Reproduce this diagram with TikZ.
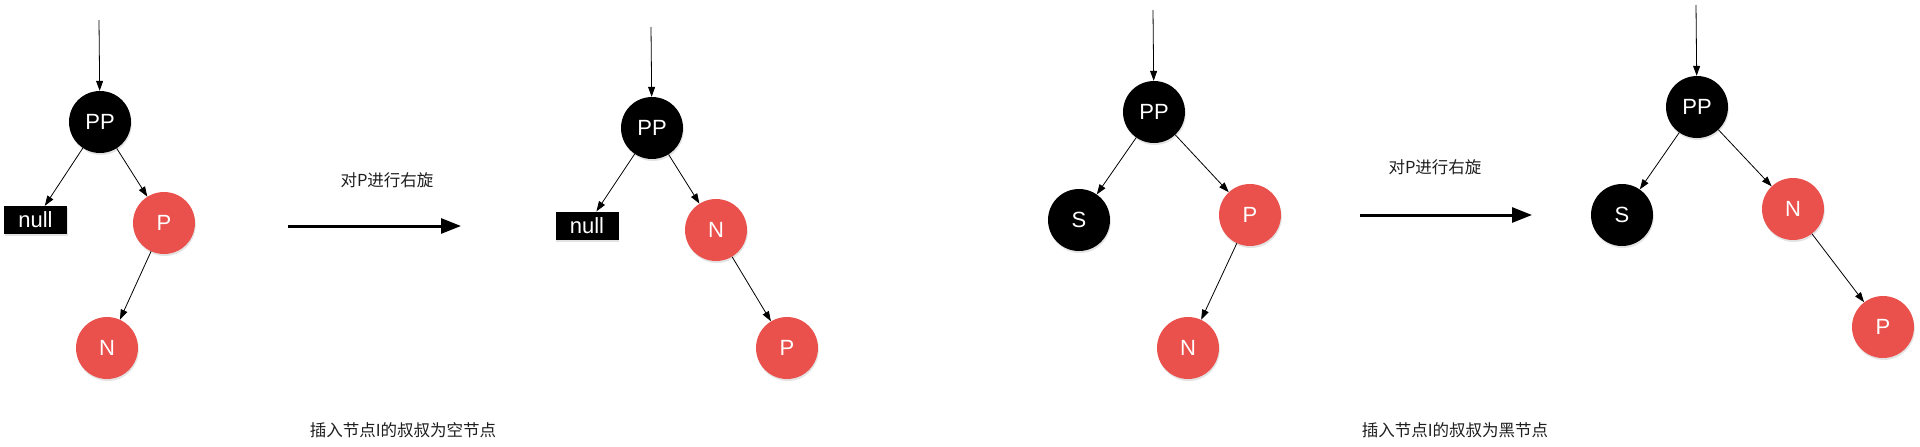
\documentclass[tikz,border=0pt]{standalone}
\usepackage{fontspec}
\setmainfont{Liberation Sans}
\newfontfamily\cjk{Noto Sans CJK SC}
\usetikzlibrary{arrows.meta,shadows}
\definecolor{nodered}{RGB}{234,80,76}
\definecolor{labelgray}{RGB}{30,30,30}
\begin{document}
\begin{tikzpicture}[x=1pt,y=-1pt,
  shade/.style={drop shadow={opacity=0.22,shadow xshift=0.8pt,shadow yshift=-2pt}},
  blknode/.style={circle, fill=black, text=white, minimum size=62pt, inner sep=0pt,
    font=\fontsize{22}{22}\selectfont, shade},
  rednode/.style={circle, fill=nodered, text=white, minimum size=62pt, inner sep=0pt,
    font=\fontsize{22}{22}\selectfont, shade},
  nullbox/.style={rectangle, fill=black, text=white, minimum width=63pt, minimum height=28pt,
    inner sep=0pt, font=\fontsize{22}{22}\selectfont, shade},
  edge/.style={-{Triangle[length=10pt,width=7pt]}, line width=0.8pt},
  bigarrow/.style={-{Triangle[length=20pt,width=15pt]}, line width=3pt},
  lbl/.style={text=labelgray, font=\cjk\fontsize{16.5}{16.5}\selectfont, inner sep=0pt}
]
\useasboundingbox (0,0) rectangle (1920,447);

% ---------- Panel 1 ----------
\coordinate (t1) at (99,20);
\node[blknode] (pp1) at (100,122) {PP};
\node[nullbox] (null1) at (35.5,220) {null};
\node[rednode] (p1) at (164,223) {P};
\node[rednode] (n1) at (107,348) {N};
\draw[edge] (t1) -- (pp1);
\draw[edge] (pp1) -- (null1);
\draw[edge] (pp1) -- (p1);
\draw[edge] (p1) -- (n1);

% arrow 1
\coordinate (a1s) at (288,226);
\coordinate (a1e) at (461,226);
\draw[bigarrow] (a1s) -- (a1e);
\node[lbl] (rot1) at (387,180) {对P进行右旋};

% ---------- Panel 2 ----------
\coordinate (t2) at (651,27);
\node[blknode] (pp2) at (652,128) {PP};
\node[nullbox] (null2) at (587,225.5) {null};
\node[rednode] (n2) at (716,230) {N};
\node[rednode] (p2) at (787,348) {P};
\draw[edge] (t2) -- (pp2);
\draw[edge] (pp2) -- (null2);
\draw[edge] (pp2) -- (n2);
\draw[edge] (n2) -- (p2);

\node[lbl] (cap1) at (403,430) {插入节点I的叔叔为空节点};

% ---------- Panel 3 ----------
\coordinate (t3) at (1153,10);
\node[blknode] (pp3) at (1154,112) {PP};
\node[blknode] (s3) at (1079,220) {S};
\node[rednode] (p3) at (1250,215) {P};
\node[rednode] (n3) at (1188,348) {N};
\draw[edge] (t3) -- (pp3);
\draw[edge] (pp3) -- (s3);
\draw[edge] (pp3) -- (p3);
\draw[edge] (p3) -- (n3);

% arrow 2
\coordinate (a2s) at (1360,215);
\coordinate (a2e) at (1532,215);
\draw[bigarrow] (a2s) -- (a2e);
\node[lbl] (rot2) at (1435,167) {对P进行右旋};

% ---------- Panel 4 ----------
\coordinate (t4) at (1696,5);
\node[blknode] (pp4) at (1697,107) {PP};
\node[blknode] (s4) at (1622,215) {S};
\node[rednode] (n4) at (1793,209) {N};
\node[rednode] (p4) at (1883,327) {P};
\draw[edge] (t4) -- (pp4);
\draw[edge] (pp4) -- (s4);
\draw[edge] (pp4) -- (n4);
\draw[edge] (n4) -- (p4);

\node[lbl] (cap2) at (1455,430) {插入节点I的叔叔为黑节点};
\end{tikzpicture}
\end{document}
